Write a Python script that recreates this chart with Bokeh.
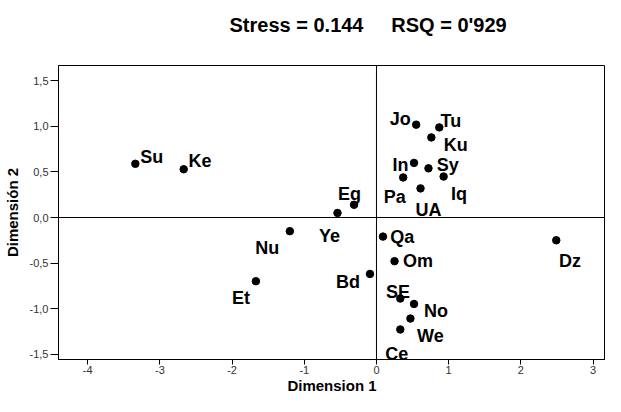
from bokeh.plotting import figure
from bokeh.models import Span, FixedTicker, ColumnDataSource
from bokeh.embed import file_html
from bokeh.resources import INLINE
from bokeh.core.properties import value

# ---- data ----
countries = ["Su", "Ke", "Eg", "Ye", "Nu", "Et", "Bd", "Qa", "Om", "SE", "No",
             "We", "Ce", "Jo", "Tu", "Ku", "In", "Sy", "Iq", "Pa", "UA", "Dz"]
dim1 = [-3.34, -2.67, -0.31, -0.54, -1.20, -1.67, -0.09, 0.09, 0.25, 0.33, 0.52,
        0.47, 0.33, 0.55, 0.87, 0.76, 0.52, 0.72, 0.93, 0.37, 0.61, 2.49]
dim2 = [0.59, 0.53, 0.14, 0.05, -0.15, -0.70, -0.62, -0.21, -0.48, -0.89, -0.95,
        -1.11, -1.23, 1.02, 0.99, 0.88, 0.60, 0.54, 0.45, 0.44, 0.32, -0.25]

x_ticks = [-4, -3, -2, -1, 0, 1, 2, 3]
x_tick_labels = ["-4", "-3", "-2", "-1", "0", "1", "2", "3"]
y_ticks = [-1.5, -1.0, -0.5, 0.0, 0.5, 1.0, 1.5]
y_tick_labels = ["-1,5", "-1,0", "-0,5", "0,0", "0,5", "1,0", "1,5"]

title_text = "Stress = 0.144\u00a0\u00a0\u00a0\u00a0 RSQ = 0'929"

# ---- label placement (pixels; x right, y down, to text baseline) ----
label_dx = [5, 4.7, -16, -18.6, -34.7, -24, -34, 7.3, 8.4, -14.3, 10,
            6.7, -15, -26.4, 1.3, 12.3, -21.6, 8.3, 7.4, -19.4, -5, 2.7]
label_dy = [-6.6, -8.3, -10.7, 23.4, 16.4, 16.6, 7.7, 0.7, -0.3, -6.6, 7.4,
            17.3, 24.3, -5.7, -6.3, 7.7, 2.3, -3.3, 17, 20, 21.6, 21]

FONT = "Liberation Sans"

src = ColumnDataSource(dict(x=dim1, y=dim2, name=countries, dx=label_dx, dy=label_dy))

p = figure(width=605, height=396, output_backend="svg", toolbar_location=None,
           x_range=(-4.404, 3.172), y_range=(-1.56, 1.670),
           min_border_left=50, min_border_right=0, min_border_top=65,
           min_border_bottom=37)

p.background_fill_color = "white"
p.border_fill_color = "white"
p.outline_line_color = "black"
p.outline_line_width = 1
p.xgrid.visible = False
p.ygrid.visible = False

# second (blank) line gives the title panel extra height below the text,
# so the visible line sits higher above the frame
p.title.text = title_text + "\n\u00a0"
p.title.align = "left"
p.title.offset = 171
p.title.vertical_align = "top"
p.title.standoff = 12
p.title.text_font = FONT
p.title.text_font_size = "20px"
p.title.text_font_style = "bold"
p.title.text_color = "black"

for ax in (p.xaxis[0], p.yaxis[0]):
    ax.axis_line_color = "black"
    ax.major_tick_line_color = "black"
    ax.minor_tick_line_color = None
    ax.major_tick_in = 0
    ax.major_label_text_font = FONT
    ax.major_label_text_font_size = "11px"
    ax.major_label_text_color = "#333333"
    ax.axis_label_text_font = FONT
    ax.axis_label_text_font_size = "15px"
    ax.axis_label_text_font_style = "bold"
    ax.axis_label_text_color = "black"

p.xaxis.ticker = FixedTicker(ticks=x_ticks)
p.xaxis.major_label_overrides = dict(zip(x_ticks, x_tick_labels))
p.xaxis.major_tick_out = 5
p.xaxis.major_label_standoff = 1
p.xaxis.axis_label = "Dimension 1"
p.xaxis.axis_label_standoff = 0

p.yaxis.ticker = FixedTicker(ticks=y_ticks)
p.yaxis.major_label_overrides = dict(zip(y_ticks, y_tick_labels))
p.yaxis.major_tick_out = 8
p.yaxis.major_label_standoff = 2
p.yaxis.axis_label = "Dimensión 2"
p.yaxis.axis_label_standoff = 6

p.add_layout(Span(location=0, dimension="width", line_color="black", line_width=1))
p.add_layout(Span(location=0, dimension="height", line_color="black", line_width=1))

p.scatter("x", "y", source=src, size=7.5, color="black")
p.text("x", "y", text="name", source=src, x_offset="dx", y_offset="dy",
       text_align="left", text_baseline="alphabetic",
       text_font=value(FONT), text_font_size="18px", text_font_style="bold",
       text_color="black")

open("out.html", "w").write(file_html(p, INLINE))
